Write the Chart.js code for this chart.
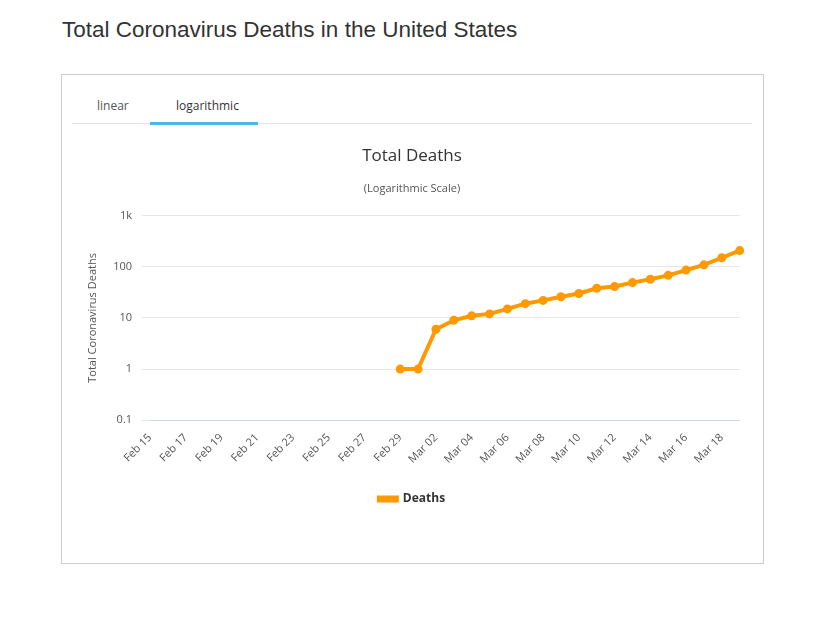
<!DOCTYPE html>
<html><head><meta charset="utf-8">
<script src="https://cdn.jsdelivr.net/npm/chart.js@4.4.0/dist/chart.umd.min.js"></script>
<style>
body{margin:0;width:828px;height:629px;background:#fff;font-family:"Open Sans",Arial,sans-serif;position:relative}
h1{position:absolute;left:62px;top:17px;margin:0;font-weight:400;font-size:22.5px;color:#333;font-family:Arial,"Liberation Sans",sans-serif}
#box{position:absolute;left:61px;top:74px;width:701px;height:488px;border:1px solid #ccc}
#tabs{position:absolute;left:10px;top:0;width:680px;height:48px;border-bottom:1px solid #e5e5e5;font-size:12px}
.tab{position:absolute;top:22px;color:#555}
#ul{position:absolute;left:78px;top:47px;width:108px;height:3px;background:#4bb8e6}
#wrap{position:absolute;left:10px;top:60px;width:680px;height:420px}
</style></head><body>
<h1>Total Coronavirus Deaths in the United States</h1>
<div id="box">
<div id="tabs"><span class="tab" style="left:25px">linear</span><span class="tab" style="left:104px;color:#333">logarithmic</span><div id="ul"></div></div>
<div id="wrap"><canvas id="c"></canvas></div>
</div>
<script>
const labels = ["Feb 15","Feb 16","Feb 17","Feb 18","Feb 19","Feb 20","Feb 21","Feb 22","Feb 23","Feb 24","Feb 25","Feb 26","Feb 27","Feb 28","Feb 29","Mar 01","Mar 02","Mar 03","Mar 04","Mar 05","Mar 06","Mar 07","Mar 08","Mar 09","Mar 10","Mar 11","Mar 12","Mar 13","Mar 14","Mar 15","Mar 16","Mar 17","Mar 18","Mar 19"];
const deaths = [null,null,null,null,null,null,null,null,null,null,null,null,null,null,1,1,6,9,11,12,15,19,22,26,30,38,41,49,57,68,86,109,150,207];
const yTicks = [0.1,1,10,100,1000];

new Chart(document.getElementById("c"), {
  type: "line",
  data: { labels: labels, datasets: [{
    label: "Deaths", data: deaths, borderColor: "#ff9900", backgroundColor: "#ff9900",
    borderWidth: 4, pointRadius: 2.5, pointHoverRadius: 4, tension: 0, spanGaps: false
  }]},
  options: {
    responsive: true, maintainAspectRatio: false, animation: false,
    layout: { padding: { left: 10, right: 10, bottom: 40 } },
    plugins: {
      title: { display: true, text: "Total Deaths", color: "#333", font: { size: 17, weight: "normal", family: "Open Sans" }, padding: { top: 11, bottom: 16 } },
      subtitle: { display: true, text: "(Logarithmic Scale)", color: "#555", font: { size: 11, family: "Open Sans" }, padding: { bottom: 20 } },
      legend: { position: "bottom", labels: { color: "#333", boxWidth: 18, boxHeight: 3, font: { size: 12, weight: "bold", family: "Open Sans" }, padding: 24 } }
    },
    scales: {
      x: {
        grid: { display: false }, border: { color: "#ccd6eb" },
        ticks: { color: "#555", font: { size: 11, family: "Open Sans" }, maxRotation: 45, minRotation: 45, autoSkip: false,
          callback: function(v, i) { return i % 2 === 0 ? labels[i] : ""; } }
      },
      y: {
        type: "logarithmic", min: 0.1, max: 1000,
        afterBuildTicks: function(s) { s.ticks = yTicks.map(v => ({ value: v })); },
        grid: { color: "#e6e6e6" }, border: { display: false },
        ticks: { color: "#555", font: { size: 11, family: "Open Sans" }, padding: 10,
          callback: function(v) { return v >= 1000 ? (v / 1000) + "k" : String(v); } },
        title: { display: true, text: "Total Coronavirus Deaths", color: "#555", font: { size: 11, family: "Open Sans" } }
      }
    }
  }
});
</script>
</body></html>
